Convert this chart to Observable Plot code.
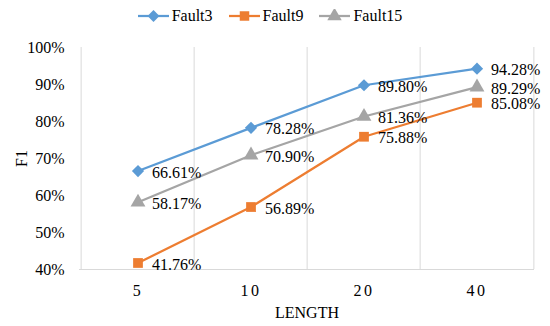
<!DOCTYPE html>
<html>
<head>
<meta charset="utf-8">
<script src="https://cdn.jsdelivr.net/npm/d3@7"></script>
<script src="https://cdn.jsdelivr.net/npm/@observablehq/plot@0.6"></script>
<style>
  body { margin: 0; background: #fff; font-family: "Liberation Serif", "Times New Roman", serif; }
  #legend { height: 32px; display: flex; justify-content: center; align-items: center; gap: 16px; font-size: 16px; color: #000; padding-right: 10px; box-sizing: border-box; width: 550px; }
  #legend .item { display: flex; align-items: center; gap: 3px; }
  #chart svg, #chart svg text { font-family: "Liberation Serif", "Times New Roman", serif; }
  #chart svg [aria-label="x-axis tick label"] text { letter-spacing: 2.5px; }
</style>
</head>
<body>
<div id="legend"></div>
<div id="chart"></div>
<script>
const categories = ["5", "10", "20", "40"];
const seriesNames = ["Fault3", "Fault9", "Fault15"];
const fault3 = [66.61, 78.28, 89.80, 94.28];
const fault9 = [41.76, 56.89, 75.88, 85.08];
const fault15 = [58.17, 70.90, 81.36, 89.29];
const yTicks = [40, 50, 60, 70, 80, 90, 100];
const colors = ["#5b9bd5", "#ed7d31", "#a5a5a5"];
const symbols = ["diamond2", "square", "triangle"];

const values = [fault3, fault9, fault15];
const data = [];
seriesNames.forEach((s, i) => categories.forEach((c, j) => data.push({series: s, length: c, v: values[i][j]})));

const width = 550, height = 294;
const marginLeft = 79, marginRight = 16, marginTop = 15, marginBottom = 57;
const step = (width - marginLeft - marginRight) / categories.length;

const plot = Plot.plot({
  width, height, marginLeft, marginRight, marginTop, marginBottom,
  style: {fontFamily: "Liberation Serif", fontSize: "16px", color: "#000", background: "#fff"},
  x: {type: "band", domain: categories, padding: 0},
  y: {domain: [40, 100]},
  color: {domain: seriesNames, range: colors},
  symbol: {domain: seriesNames, range: symbols},
  marks: [
    Plot.ruleX(categories.slice(1), {x: d => d, dx: -step / 2, stroke: "#d9d9d9", strokeWidth: 1}),
    Plot.ruleX([categories[categories.length - 1]], {x: d => d, dx: step / 2, stroke: "#d9d9d9", strokeWidth: 1}),
    Plot.ruleX([categories[0]], {x: d => d, dx: -step / 2, stroke: "#d9d9d9", strokeWidth: 1}),
    Plot.ruleY([40], {stroke: "#d9d9d9", strokeWidth: 1}),
    Plot.axisX({tickSize: 0, tickPadding: 15, label: "LENGTH", labelArrow: "none", labelAnchor: "center", labelOffset: 48, fontSize: 16}),
    Plot.axisY({ticks: yTicks, tickFormat: d => d + "%", tickSize: 0, tickPadding: 15, label: "F1", labelArrow: "none", labelAnchor: "center", labelOffset: 64, fontSize: 16}),
    Plot.line(data, {x: "length", y: "v", z: "series", stroke: "series", strokeWidth: 2.25}),
    Plot.dot(data, {x: "length", y: "v", fill: "series", symbol: "series", r: 5.5, stroke: "none"}),
    Plot.text(data, {x: "length", y: "v", text: d => d.v.toFixed(2) + "%", textAnchor: "start", dx: 14, dy: 1.5, fontSize: 16, fill: "#000"})
  ]
});
document.getElementById("chart").appendChild(plot);

const legend = document.getElementById("legend");
seriesNames.forEach((s, i) => {
  const item = document.createElement("div");
  item.className = "item";
  const sym = d3.symbol(i === 0 ? d3.symbolDiamond2 : i === 1 ? d3.symbolSquare : d3.symbolTriangle, 90)();
  item.innerHTML = `<svg width="31" height="14"><line x1="0" x2="31" y1="7" y2="7" stroke="${colors[i]}" stroke-width="2.25"/><path d="${sym}" transform="translate(15.5,7)" fill="${colors[i]}"/></svg><span>${s}</span>`;
  legend.appendChild(item);
});
</script>
</body>
</html>
